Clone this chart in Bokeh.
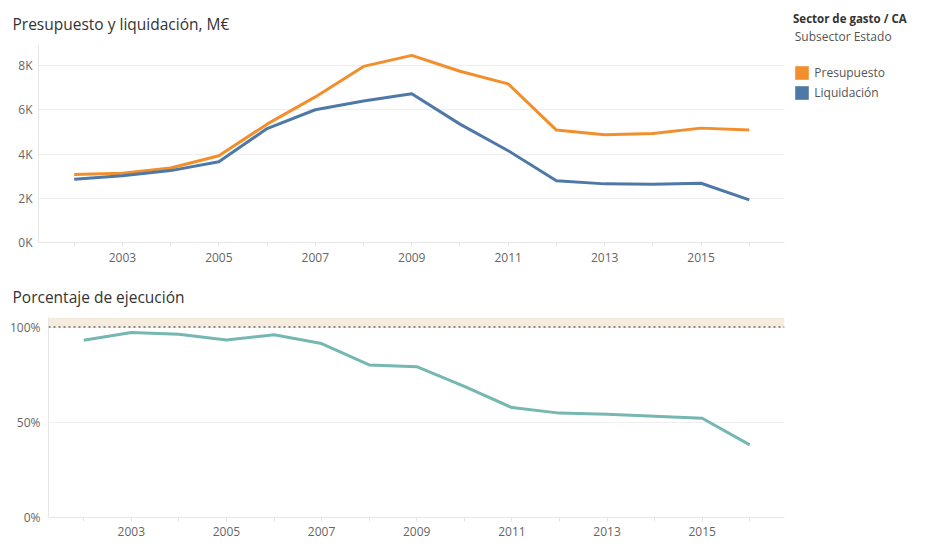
from bokeh.plotting import figure
from bokeh.models import (Range1d, FixedTicker, Legend, LegendItem, Title,
                          BoxAnnotation, Span, ColumnDataSource)
from bokeh.layouts import row
from bokeh.embed import file_html
from bokeh.resources import INLINE

# ---------------- data ----------------
years = [2002, 2003, 2004, 2005, 2006, 2007, 2008, 2009,
         2010, 2011, 2012, 2013, 2014, 2015, 2016]
presupuesto = [3070, 3130, 3370, 3920, 5350, 6580, 7960, 8460,
               7740, 7170, 5080, 4870, 4930, 5170, 5080]
liquidacion = [2860, 3020, 3250, 3650, 5150, 6000, 6400, 6720,
               5350, 4150, 2790, 2650, 2630, 2680, 1930]
ejecucion = [93.1, 97.1, 96.2, 93.2, 95.9, 91.3, 80.1, 79.2,
             68.8, 57.7, 54.8, 54.2, 53.2, 52.1, 38.1]

x_ticks = [2003, 2005, 2007, 2009, 2011, 2013, 2015]
y1_ticks = [0, 2000, 4000, 6000, 8000]
y1_labels = ["0K", "2K", "4K", "6K", "8K"]
y2_ticks = [0, 50, 100]
y2_labels = ["0%", "50%", "100%"]

series_names = ["Presupuesto", "Liquidación"]
series_colors = ["#f28e2b", "#4e79a7"]
teal = "#76b7b2"

FONT = "Open Sans"
TITLE_COLOR = "#333333"
TICK_COLOR = "#666666"
AXIS_COLOR = "#e6e6e6"
GRID_COLOR = "#efefef"

X_RANGE = (2001.26, 2016.73)


def style(p, yticks, ylabels, label_standoff, x_standoff):
    p.outline_line_color = None
    p.xgrid.grid_line_color = None
    p.ygrid.grid_line_color = GRID_COLOR
    p.ygrid.ticker = FixedTicker(ticks=yticks)
    p.xaxis.ticker = FixedTicker(ticks=x_ticks, minor_ticks=years)
    p.yaxis.ticker = FixedTicker(ticks=yticks)
    p.yaxis.major_label_overrides = {t: l for t, l in zip(yticks, ylabels)}
    for ax in (p.xaxis[0], p.yaxis[0]):
        ax.axis_line_color = AXIS_COLOR
        ax.major_label_text_font = FONT
        ax.major_label_text_font_size = "12px"
        ax.major_label_text_color = TICK_COLOR
    p.xaxis.major_tick_line_color = AXIS_COLOR
    p.xaxis.minor_tick_line_color = AXIS_COLOR
    p.xaxis.major_tick_out = 4
    p.xaxis.major_tick_in = 0
    p.xaxis.minor_tick_out = 4
    p.xaxis.minor_tick_in = 0
    p.xaxis.major_label_standoff = x_standoff
    p.yaxis.major_tick_line_color = None
    p.yaxis.minor_tick_line_color = None
    p.yaxis.major_tick_out = 0
    p.yaxis.major_tick_in = 0
    p.yaxis.major_label_standoff = label_standoff
    p.title.text_font = FONT
    p.title.text_font_size = "15.5px"
    p.title.text_font_style = "normal"
    p.title.text_color = TITLE_COLOR
    p.title.align = "left"


# ---------------- top chart ----------------
p1 = figure(width=788, height=272, output_backend="svg", toolbar_location=None,
            x_range=Range1d(*X_RANGE), y_range=Range1d(0, 8950),
            min_border_left=38, min_border_right=4, min_border_top=43,
            min_border_bottom=30, title="Presupuesto y liquidación, M€")
style(p1, y1_ticks, y1_labels, 6, 6)
p1.title.offset = -26
p1.title.standoff = 20

src = ColumnDataSource(dict(year=years, pres=presupuesto, liq=liquidacion,
                            ejec=ejecucion))
p1.line("year", "pres", source=src, line_color=series_colors[0],
        line_width=3, line_join="round")
p1.line("year", "liq", source=src, line_color=series_colors[1],
        line_width=3, line_join="round")

# ---------------- bottom chart ----------------
p2 = figure(width=788, height=270, output_backend="svg", toolbar_location=None,
            x_range=Range1d(*X_RANGE), y_range=Range1d(0, 105),
            min_border_left=48, min_border_right=4, min_border_top=45,
            min_border_bottom=25, title="Porcentaje de ejecución")
style(p2, y2_ticks, y2_labels, 8, 5)
p2.title.offset = -36
p2.title.standoff = 20

p2.add_layout(BoxAnnotation(bottom=100, fill_color="#f6ecdd", fill_alpha=1,
                            line_color=None, level="underlay"))
p2.add_layout(Span(location=100, dimension="width", line_color="#8c8c8c",
                   line_width=2, line_dash="2 3"))
p2.line("year", "ejec", source=src, line_color=teal, line_width=3,
        line_join="round")

# ---------------- legend panel (frame aligned with the top chart) ----------
p3 = figure(width=160, height=272, output_backend="svg", toolbar_location=None,
            x_range=Range1d(0, 160), y_range=Range1d(242, 43),
            x_axis_location=None, y_axis_location=None,
            min_border_left=0, min_border_right=0, min_border_top=43,
            min_border_bottom=30)
p3.outline_line_color = None
p3.grid.visible = False

p3.add_layout(Title(text="Subsector Estado", align="left", offset=6.2,
                    standoff=0, text_font=FONT, text_font_size="12px",
                    text_font_style="normal", text_color="#555555"), "above")
p3.add_layout(Title(text="Sector de gasto / CA", align="left", offset=4.5,
                    standoff=0, text_font=FONT, text_font_size="11.5px",
                    text_font_style="bold", text_color=TITLE_COLOR), "above")

nan = float("nan")
items = []
for name, col in zip(series_names, series_colors):
    r = p3.quad(left=[nan], right=[nan], top=[nan], bottom=[nan],
                fill_color=col, line_color=None)
    items.append(LegendItem(label=name, renderers=[r]))
leg = Legend(items=items, location=(5.3, 140), glyph_width=17,
             glyph_height=17, label_height=20, spacing=0, padding=0, margin=0,
             label_standoff=4, border_line_color=None,
             background_fill_alpha=0, label_text_font=FONT,
             label_text_font_size="12px", label_text_color="#555555")
p3.add_layout(leg)

open("out.html", "w").write(file_html([row(p1, p3), p2], INLINE))
